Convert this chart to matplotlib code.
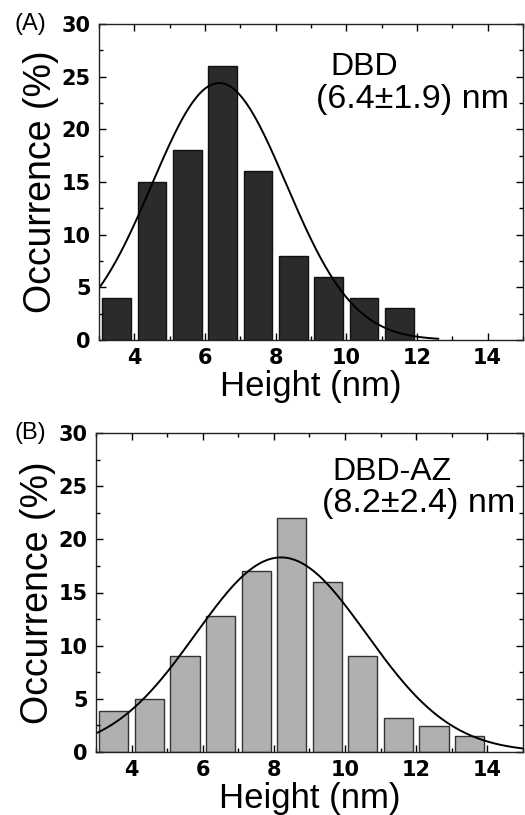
import numpy as np
import matplotlib
matplotlib.use("Agg")
import matplotlib.pyplot as plt
from matplotlib.ticker import MultipleLocator

# Data
centers_a = [3.5, 4.5, 5.5, 6.5, 7.5, 8.5, 9.5, 10.5, 11.5]
occ_a = [4, 15, 18, 26, 16, 8, 6, 4, 3]
mean_a, sd_a, peak_a = 6.4, 1.9, 24.4

centers_b = [3.5, 4.5, 5.5, 6.5, 7.5, 8.5, 9.5, 10.5, 11.5, 12.5, 13.5]
occ_b = [3.9, 5, 9, 12.8, 17, 22, 16, 9, 3.2, 2.4, 1.5]
mean_b, sd_b, peak_b = 8.2, 2.4, 18.3

xticks = [4, 6, 8, 10, 12, 14]
yticks = [0, 5, 10, 15, 20, 25, 30]

plt.rcParams['font.family'] = ['Liberation Sans', 'DejaVu Sans']

fig = plt.figure(figsize=(5.25, 8.15), dpi=100)
axA = fig.add_axes([99/525, 1-340/815, 424/525, 316/815])
axB = fig.add_axes([96/525, 1-752/815, 427/525, 319/815])

def style(ax):
    ax.set_xlim(3, 15)
    ax.set_ylim(0, 30)
    ax.set_xticks(xticks)
    ax.set_yticks(yticks)
    ax.xaxis.set_minor_locator(MultipleLocator(1))
    ax.yaxis.set_minor_locator(MultipleLocator(2.5))
    ax.tick_params(which='both', direction='in', top=True, right=True, width=1.0)
    ax.tick_params(which='major', length=5, pad=6)
    ax.tick_params(which='minor', length=3)
    for lab in ax.get_xticklabels() + ax.get_yticklabels():
        lab.set_family('DejaVu Sans')
        lab.set_fontweight('heavy')
        lab.set_fontsize(15)
    for s in ax.spines.values():
        s.set_linewidth(1.0)
        s.set_color('#222222')
    ax.set_xlabel('Height (nm)', fontsize=25, labelpad=1)
    ax.set_ylabel('Occurrence (%)', fontsize=27, labelpad=2)

# Panel A
axA.bar(centers_a, occ_a, width=0.82, color='#2b2b2b', edgecolor='#111111', linewidth=1.0)
xa = np.linspace(3, 12.6, 300)
axA.plot(xa, peak_a*np.exp(-0.5*((xa-mean_a)/sd_a)**2), color='black', lw=1.4)
style(axA)
axA.text(9.55, 25.9, 'DBD', fontsize=23, va='center', ha='left')
axA.text(9.15, 22.8, '(6.4\u00b11.9) nm', fontsize=24.5, va='center', ha='left')
fig.text(14/525, 1-24/815, '(A)', fontsize=17, va='center', ha='left')

# Panel B
axB.bar(centers_b, occ_b, width=0.82, color='#b0b0b0', edgecolor='#333333', linewidth=1.0)
xb = np.linspace(3, 15, 300)
axB.plot(xb, peak_b*np.exp(-0.5*((xb-mean_b)/sd_b)**2), color='black', lw=1.4)
style(axB)
axB.text(9.65, 26.3, 'DBD-AZ', fontsize=23, va='center', ha='left')
axB.text(9.35, 23.4, '(8.2\u00b12.4) nm', fontsize=24.5, va='center', ha='left')
fig.text(14/525, 1-433/815, '(B)', fontsize=17, va='center', ha='left')

fig.savefig('out.png', dpi=100)
